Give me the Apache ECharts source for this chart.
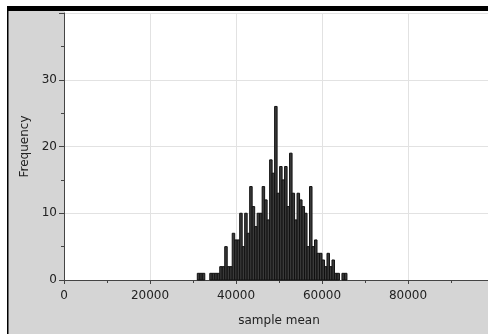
<!DOCTYPE html>
<html>
<head>
<meta charset="utf-8">
<script src="https://cdn.jsdelivr.net/npm/echarts@6/dist/echarts.min.js"></script>
<style>
html, body { margin: 0; padding: 0; background: #fff; }
#chart { width: 488px; height: 334px; }
</style>
</head>
<body>
<div id="chart"></div>
<script>
// histogram of sample means, bins
var binStart = 31000;
var binWidth = 580;
var counts = [1, 1, 1, 0, 0, 1, 1, 1, 1, 2,
              2, 5, 2, 2, 7, 6, 6, 10, 5, 10,
              7, 14, 11, 8, 10, 10, 14, 12, 9, 18,
              16, 26, 13, 17, 15, 17, 11, 19, 13, 9,
              13, 12, 11, 10, 5, 14, 5, 6, 4, 4,
              3, 2, 4, 2, 3, 1, 1, 0, 1, 1];

var bins = counts.map(function (c, i) {
  return [binStart + i * binWidth, binStart + (i + 1) * binWidth, c];
});

var font = 'DejaVu Sans';
var myChart = echarts.init(document.getElementById('chart'));
var option = {
  backgroundColor: '#d5d5d5',
  animation: false,
  grid: {
    left: 64, right: -6, top: 13, bottom: 54,
    outerBoundsMode: 'none',
    containLabel: false,
    show: true, backgroundColor: '#fff', borderWidth: 0
  },
  xAxis: {
    type: 'value',
    min: 0, max: 100000, interval: 20000,
    name: 'sample mean',
    nameLocation: 'middle',
    nameGap: 35,
    nameTextStyle: { fontFamily: font, fontSize: 12, color: '#222' },
    axisLine: { lineStyle: { color: '#444' } },
    axisTick: { length: 4, lineStyle: { color: '#444' } },
    minorTick: { show: true, splitNumber: 2, length: 3, lineStyle: { color: '#444' } },
    axisLabel: {
      fontFamily: font, fontSize: 12, color: '#222', margin: 10,
      formatter: function (v) { return v >= 100000 ? '' : String(v); }
    },
    splitLine: { lineStyle: { color: '#e2e2e2' } }
  },
  yAxis: {
    type: 'value',
    min: 0, max: 40, interval: 10,
    name: 'Frequency',
    nameLocation: 'middle',
    nameGap: 30,
    nameTextStyle: { fontFamily: font, fontSize: 12, color: '#222' },
    axisLine: { show: true, lineStyle: { color: '#444' } },
    axisTick: { show: true, length: 5, lineStyle: { color: '#444' } },
    minorTick: { show: true, splitNumber: 2, length: 3, lineStyle: { color: '#444' } },
    axisLabel: {
      fontFamily: font, fontSize: 12, color: '#222', margin: 7,
      formatter: function (v) { return v >= 40 ? '' : String(v); }
    },
    splitLine: { lineStyle: { color: '#e2e2e2' } }
  },
  series: [{
    type: 'custom',
    data: bins,
    encode: { x: [0, 1], y: 2 },
    renderItem: function (params, api) {
      if (!api.value(2)) return;
      var top = api.coord([api.value(0), api.value(2)]);
      var bot = api.coord([api.value(1), 0]);
      return {
        type: 'rect',
        shape: { x: top[0], y: top[1], width: bot[0] - top[0], height: bot[1] - top[1] },
        style: { fill: '#3a3a3a', stroke: '#111', lineWidth: 1 }
      };
    }
  }],
  graphic: [
    { type: 'rect', shape: { x: 0, y: 0, width: 488, height: 6 }, style: { fill: '#fff' } },
    { type: 'rect', shape: { x: 0, y: 0, width: 7, height: 334 }, style: { fill: '#fff' } },
    { type: 'rect', shape: { x: 7, y: 6, width: 481, height: 5 }, style: { fill: '#000' } },
    { type: 'rect', shape: { x: 7, y: 6, width: 1.5, height: 328 }, style: { fill: '#000' } },
    { type: 'rect', shape: { x: 64.5, y: 11, width: 424, height: 2 }, style: { fill: '#fff' } }
  ]
};
myChart.setOption(option);
</script>
</body>
</html>
